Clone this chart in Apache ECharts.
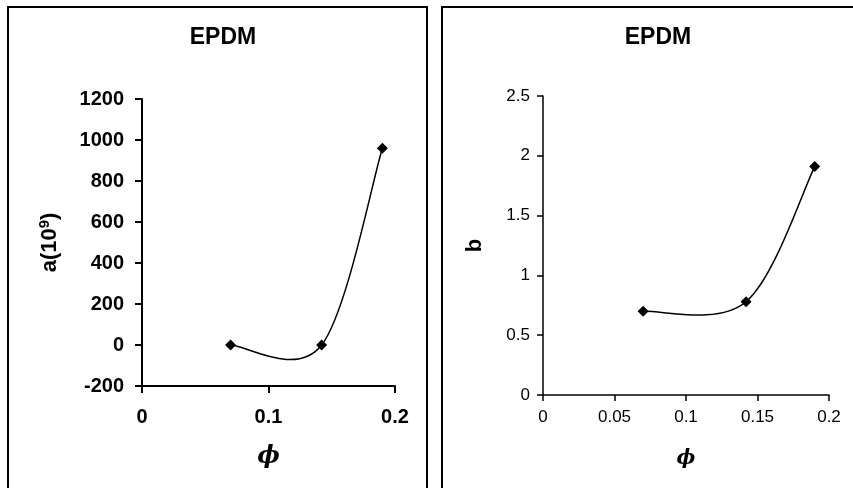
<!DOCTYPE html>
<html>
<head>
<meta charset="utf-8">
<script src="https://cdn.jsdelivr.net/npm/echarts@6/dist/echarts.min.js"></script>
<style>
  html, body { margin: 0; padding: 0; background: #fff; }
  #chart { width: 853px; height: 488px; }
</style>
</head>
<body>
<div id="chart"></div>
<script>
// volume fraction phi
const phiValues = [0.07, 0.142, 0.19]
// fitted parameters
const aValues = [0, 0, 960]
const bValues = [0.70, 0.78, 1.91]

// tick labels
const aTicks = [-200, 0, 200, 400, 600, 800, 1000, 1200]
const bTicks = [0, 0.5, 1, 1.5, 2, 2.5]
const phiTicksLeft = [0, 0.1, 0.2]
const phiTicksRight = [0, 0.05, 0.1, 0.15, 0.2]

const titleText = "EPDM"
const phiName = "ϕ"

function axisRange(ticks) {
  return { min: ticks[0], max: ticks[ticks.length - 1], interval: ticks[1] - ticks[0] }
}

function pairs(xs, ys) {
  return xs.map((x, i) => [x, ys[i]])
}

const font = "Liberation Sans, Arial, sans-serif"
const black = "#000"

// Excel-like smoothed line: cubic bezier segments with catmull-rom control points (1/6)
function smoothCurve(xs, ys) {
  return function (params, api) {
    if (params.dataIndex !== 0) return null
    const p = xs.map((x, i) => api.coord([x, ys[i]]))
    const n = p.length
    const children = []
    for (let i = 0; i < n - 1; i++) {
      const p0 = p[Math.max(i - 1, 0)]
      const p1 = p[i]
      const p2 = p[i + 1]
      const p3 = p[Math.min(i + 2, n - 1)]
      children.push({
        type: "bezierCurve",
        shape: {
          x1: p1[0], y1: p1[1],
          cpx1: p1[0] + (p2[0] - p0[0]) / 6, cpy1: p1[1] + (p2[1] - p0[1]) / 6,
          cpx2: p2[0] - (p3[0] - p1[0]) / 6, cpy2: p2[1] - (p3[1] - p1[1]) / 6,
          x2: p2[0], y2: p2[1],
        },
        style: { fill: null, stroke: black, lineWidth: 1.5 },
      })
    }
    return { type: "group", children }
  }
}

function plainNumber(v) {
  return String(v)
}

const chart = echarts.init(document.getElementById("chart"))

const option = {
  backgroundColor: "#fff",
  animation: false,
  title: [
    {
      text: titleText,
      left: 218,
      top: 21,
      textAlign: "center",
      textStyle: { fontFamily: font, fontSize: 23, fontWeight: "bold", color: black },
    },
    {
      text: titleText,
      left: 653,
      top: 21,
      textAlign: "center",
      textStyle: { fontFamily: font, fontSize: 23, fontWeight: "bold", color: black },
    },
  ],
  graphic: [
    { type: "rect", shape: { x: 8, y: 7, width: 419, height: 500 }, style: { fill: null, stroke: black, lineWidth: 2 } },
    { type: "rect", shape: { x: 442, y: 7, width: 420, height: 500 }, style: { fill: null, stroke: black, lineWidth: 2 } },
  ],
  grid: [
    { left: 142, right: 458, top: 99, bottom: 102 },
    { left: 543, right: 24, top: 96, bottom: 93 },
  ],
  xAxis: [
    {
      type: "value",
      gridIndex: 0,
      ...axisRange(phiTicksLeft),
      name: phiName,
      nameLocation: "middle",
      nameGap: 59,
      nameTextStyle: { fontFamily: "DejaVu Serif, serif", fontSize: 24, fontStyle: "italic", fontWeight: "bold", color: black },
      axisLine: { onZero: false, lineStyle: { color: black, width: 2 } },
      axisTick: { length: 7, lineStyle: { color: black, width: 2 } },
      axisLabel: { margin: 21, fontFamily: font, fontSize: 20, fontWeight: "bold", color: black, formatter: plainNumber },
      splitLine: { show: false },
    },
    {
      type: "value",
      gridIndex: 1,
      ...axisRange(phiTicksRight),
      name: phiName,
      nameLocation: "middle",
      nameGap: 54,
      nameTextStyle: { fontFamily: "DejaVu Serif, serif", fontSize: 20, fontStyle: "italic", fontWeight: "bold", color: black },
      axisLine: { onZero: false, lineStyle: { color: black, width: 1.5 } },
      axisTick: { length: 6, lineStyle: { color: black, width: 1.5 } },
      axisLabel: { margin: 14, fontFamily: font, fontSize: 17, color: black, formatter: plainNumber },
      splitLine: { show: false },
    },
  ],
  yAxis: [
    {
      type: "value",
      gridIndex: 0,
      ...axisRange(aTicks),
      name: "a(10{sup|9})",
      nameLocation: "middle",
      nameGap: 80,
      nameRotate: 90,
      nameTextStyle: {
        fontFamily: font, fontSize: 22, fontWeight: "bold", color: black,
        rich: {
          sup: { fontFamily: font, fontSize: 15, fontWeight: "bold", color: black, verticalAlign: "top", padding: [0, 0, 10, 0] },
        },
      },
      axisLine: { onZero: false, lineStyle: { color: black, width: 2 } },
      axisTick: { length: 7, lineStyle: { color: black, width: 2 } },
      axisLabel: { margin: 18, fontFamily: font, fontSize: 20, fontWeight: "bold", color: black, formatter: plainNumber },
      splitLine: { show: false },
    },
    {
      type: "value",
      gridIndex: 1,
      ...axisRange(bTicks),
      name: "b",
      nameLocation: "middle",
      nameGap: 57,
      nameRotate: 90,
      nameTextStyle: { fontFamily: font, fontSize: 22, fontWeight: "bold", color: black },
      axisLine: { onZero: false, lineStyle: { color: black, width: 1.5 } },
      axisTick: { length: 6, lineStyle: { color: black, width: 1.5 } },
      axisLabel: { margin: 13, fontFamily: font, fontSize: 17, color: black, formatter: plainNumber },
      splitLine: { show: false },
    },
  ],
  series: [
    {
      type: "custom",
      xAxisIndex: 0,
      yAxisIndex: 0,
      data: pairs(phiValues, aValues),
      renderItem: smoothCurve(phiValues, aValues),
      z: 2,
    },
    {
      type: "scatter",
      xAxisIndex: 0,
      yAxisIndex: 0,
      data: pairs(phiValues, aValues),
      symbol: "diamond",
      symbolSize: 11,
      itemStyle: { color: black, opacity: 1 },
      z: 3,
    },
    {
      type: "custom",
      xAxisIndex: 1,
      yAxisIndex: 1,
      data: pairs(phiValues, bValues),
      renderItem: smoothCurve(phiValues, bValues),
      z: 2,
    },
    {
      type: "scatter",
      xAxisIndex: 1,
      yAxisIndex: 1,
      data: pairs(phiValues, bValues),
      symbol: "diamond",
      symbolSize: 11,
      itemStyle: { color: black, opacity: 1 },
      z: 3,
    },
  ],
}

chart.setOption(option)
</script>
</body>
</html>
